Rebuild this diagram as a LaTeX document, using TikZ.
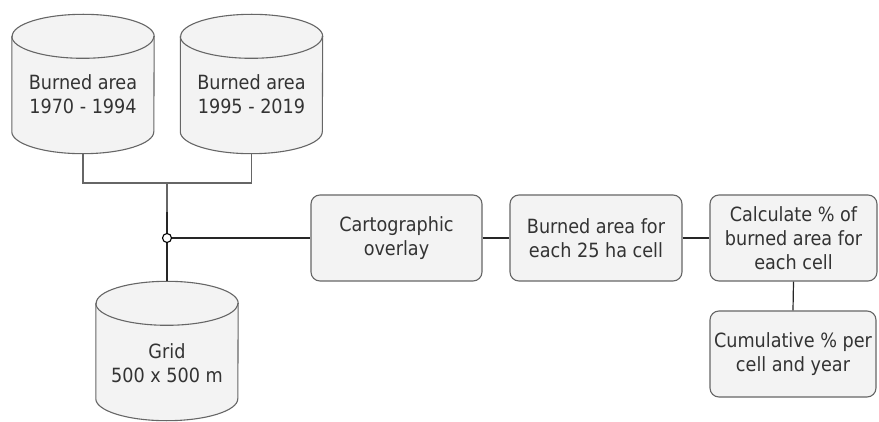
\documentclass[tikz,border=0pt]{standalone}
\usepackage{fontspec}
\setmainfont{DejaVu Sans Condensed}
\usetikzlibrary{calc}
\definecolor{fillgray}{HTML}{F3F3F3}
\definecolor{strokegray}{HTML}{666666}
\definecolor{txtgray}{HTML}{333333}
\tikzset{
  txt/.style={text=txtgray, align=center, font=\fontsize{19.6}{24}\selectfont},
  cylholder/.style={minimum width=142pt, minimum height=139pt, inner sep=0pt, draw=none},
  cylline/.style={draw=strokegray, line width=1.1pt, fill=fillgray},
  procbox/.style={txt, draw=strokegray, line width=1.1pt, fill=fillgray, rounded corners=9pt,
     minimum height=86pt, inner sep=2pt},
  bracket/.style={draw=strokegray, line width=1.1pt},
  conn/.style={draw=black!85, line width=1.2pt},
}
\newcommand\drawcyl[1]{%
  \path[cylline] ($(#1.north west)+(0,-22pt)$) -- ($(#1.south west)+(0,22pt)$)
     arc[start angle=180,end angle=360,x radius=71pt,y radius=22pt]
     -- ($(#1.north east)+(0,-22pt)$)
     arc[start angle=0,end angle=180,x radius=71pt,y radius=22pt] -- cycle;
  \draw[cylline, fill=none] ($(#1.north west)+(0,-22pt)$)
     arc[start angle=180,end angle=360,x radius=71pt,y radius=22pt];}
\begin{document}
\begin{tikzpicture}[x=1pt,y=1pt]
\useasboundingbox (0,0) rectangle (879,-422);
% cylinders
\node[cylholder] (c1) at (83,-84) {};
\node[cylholder] (c2) at (251.5,-84) {};
\node[cylholder] (g) at (167,-351) {};
\drawcyl{c1}
\drawcyl{c2}
\drawcyl{g}
\node[txt] (c1t) at ($(c1)+(0,-10)$) {Burned area\\1970 - 1994};
\node[txt] (c2t) at ($(c2)+(0,-10)$) {Burned area\\1995 - 2019};
\node[txt] (gt) at ($(g)+(0,-12)$) {Grid\\500 x 500 m};
% process boxes
\node[procbox, minimum width=171pt] (b1) at (396.5,-238) {Cartographic\\overlay};
\node[procbox, minimum width=172pt] (b2) at (596,-238) {Burned area for\\each 25 ha cell};
\node[procbox, minimum width=167pt] (b3) at (793.5,-238) {Calculate \% of\\burned area for\\each cell};
\node[procbox, minimum width=166pt] (b4) at (793,-354) {Cumulative \% per\\cell and year};
% junction
\coordinate (br) at (167,-183);
\coordinate (st) at (167,-212);
\node[circle, draw=black, fill=white, line width=1.1pt, minimum size=9pt, inner sep=0pt] (j) at (167,-238) {};
% connectors
\draw[bracket] (c1.south) -- (c1.south |- br) -- (c2.south |- br) -- (c2.south);
\draw[bracket] (br) -- (j.north);
\draw[conn] (st) -- (j.north);
\draw[conn] (j.south) -- (g.north);
\draw[conn] (j.east) -- (b1.west);
\draw[conn] (b1.east) -- (b2.west);
\draw[conn] (b2.east) -- (b3.west);
\draw[conn] (b3.south) -- (b4.north);
\end{tikzpicture}
\end{document}
